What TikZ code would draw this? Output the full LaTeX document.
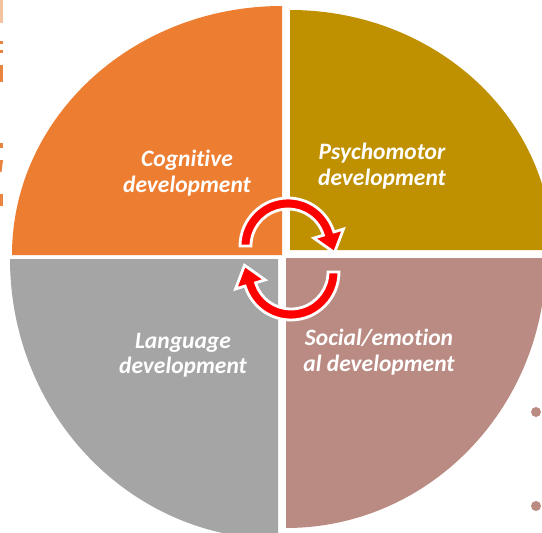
\documentclass[tikz,border=0pt]{standalone}
\usepackage{fontspec}
\setmainfont{Carlito}[Ligatures={NoCommon}]
\usetikzlibrary{calc}
\definecolor{qorange}{HTML}{ED7D31}
\definecolor{qgold}{HTML}{BF9000}
\definecolor{qgray}{HTML}{A5A5A5}
\definecolor{qrose}{HTML}{BA8B83}
\definecolor{qred}{HTML}{FF0000}
\definecolor{qfrag}{HTML}{E8843F}
\definecolor{qfraglight}{HTML}{F4C29E}
\tikzset{
  quadlabel/.style={text=white, font=\fontsize{23.5}{25.5}\selectfont\bfseries\itshape, align=center, inner sep=0pt},
  cyclearrow/.style={fill=qred, draw=white, line width=2.8pt, line join=miter},
  fragment/.style={fill=qfrag, draw=none},
  bulletdot/.style={circle, fill=qrose, draw=none, minimum size=10pt, inner sep=0pt}
}
\newcommand{\cyclearrowpath}[5]{% center, start, end, inner r, outer r
  \path[cyclearrow] ($(#1)+(#2:#5)$) arc[start angle=#2, end angle=#3, radius=#5]
    -- ($(#1)+(#3:#5+10)$) -- ($(#1)+(#3:{(#4+#5)/2})+(#3+90:20)$)
    -- ($(#1)+(#3:#4-10)$) -- ($(#1)+(#3:#4)$)
    arc[start angle=#3, end angle=#2, radius=#4] -- cycle;}
\begin{document}
\begin{tikzpicture}[x=1pt,y=-1pt]
\useasboundingbox (0,0) rectangle (542,533);
\clip (0,0) rectangle (542,533);
% quadrants
\fill[qorange] (282,255) -- (12,255) arc[start angle=180, end angle=270, x radius=270, y radius=249] -- cycle;
\fill[qgold] (290,250) -- (290,10) arc[start angle=270, end angle=360, x radius=262, y radius=240] -- cycle;
\fill[qrose] (286,258) -- (546,258) arc[start angle=0, end angle=90, x radius=260, y radius=270] -- cycle;
\fill[qgray] (278,259) -- (278,539) arc[start angle=90, end angle=180, x radius=268, y radius=280] -- cycle;
% labels
\node[quadlabel] (cog) at (187,173) {Cognitive\\development};
\node[quadlabel] (psy) at (382,166) {Psychomotor\\development};
\node[quadlabel] (lang) at (183,355) {Language\\development};
\node[quadlabel] (soc) at (379,352) {Social/emotion\\al development};
% cycle arrows
\coordinate (c1) at (288,246);
\coordinate (c2) at (291,272);
\cyclearrowpath{c1}{180}{343}{37}{48}
\cyclearrowpath{c2}{0}{163}{37}{48}
% bullets at right edge
\node[bulletdot] (b1) at (536,412) {};
\node[bulletdot] (b2) at (536,506) {};
% cut-off fragments at left edge
\fill[qfraglight] (0,0) rectangle (2.5,23);
\fill[fragment] (0,41) rectangle (2.5,44);
\fill[fragment] (0,50) rectangle (2.5,53);
\fill[fragment] (0,65) rectangle (2.5,82);
\fill[fragment] (0,143) rectangle (2.5,148);
\fill[fragment] (0,160) -- (3,160) -- (1.5,172) -- (0,172) -- cycle;
\fill[fragment] (0,194) rectangle (2.5,206);
\end{tikzpicture}
\end{document}
